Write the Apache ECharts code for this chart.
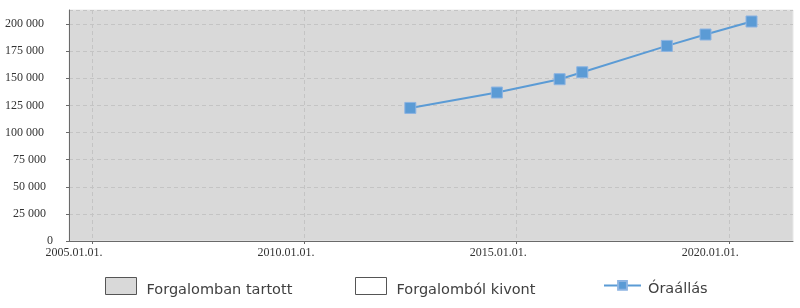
<!DOCTYPE html>
<html>
<head>
<meta charset="utf-8">
<script src="https://cdn.jsdelivr.net/npm/echarts@6/dist/echarts.min.js"></script>
<style>
html,body{margin:0;padding:0;background:#fff;}
#chart{width:800px;height:308px;}
</style>
</head>
<body>
<div id="chart"></div>
<script>
// ---- data ----
const readingDates = ['2012-06-29', '2014-07-14', '2016-01-05', '2016-07-18', '2018-07-16', '2019-06-14', '2020-07-14'];
const readingValues = [122700, 136900, 149200, 155600, 179900, 190400, 202400];
const xTickDates = ['2005-01-01', '2010-01-01', '2015-01-01', '2020-01-01'];
const xRange = ['2004-06-13', '2021-07-06'];
const yMax = 213000;
const yStep = 25000;
const legendNames = ['Forgalomban tartott', 'Forgalomból kivont', 'Óraállás'];

// x axis works in days since 2005-01-01 (UTC)
const DAY = 86400000;
const ORIGIN = Date.UTC(2005, 0, 1);
function toDay(s) {
  const p = s.split('-').map(Number);
  return Math.round((Date.UTC(p[0], p[1] - 1, p[2]) - ORIGIN) / DAY);
}
function pad(n) { return (n < 10 ? '0' : '') + n; }
function fmtDate(v) {
  const d = new Date(ORIGIN + Math.round(v) * DAY);
  return d.getUTCFullYear() + '.' + pad(d.getUTCMonth() + 1) + '.' + pad(d.getUTCDate()) + '.';
}
function fmtNum(v) {
  const s = String(v).replace(/\B(?=(\d{3})+(?!\d))/g, ' ');
  if (s.length >= 7) return '{l|' + s + '}';
  if (s.length >= 5) return '{m|' + s + '}';
  return '{s|' + s + '}';
}

const tickDays = xTickDates.map(toDay);
const lineData = readingDates.map((d, i) => [toDay(d), readingValues[i]]);

const chart = echarts.init(document.getElementById('chart'), null, {renderer: 'canvas'});
const legFont = {fontFamily: 'DejaVu Sans', fontSize: 14.5, color: '#404040'};
function legendTextStyle(leftPad) {
  return Object.assign({}, legFont, {
    rich: {t: Object.assign({padding: [8, 0, 0, leftPad]}, legFont)}
  });
}
const yLab = {fontFamily: 'Liberation Serif', fontSize: 12, color: '#333'};

chart.setOption({
  animation: false,
  backgroundColor: '#ffffff',
  grid: {
    left: 69, right: 7, top: 10, bottom: 67,
    show: true, backgroundColor: '#d9d9d9', borderColor: '#e8e8e8', borderWidth: 1,
    containLabel: false
  },
  xAxis: {
    type: 'value',
    min: toDay(xRange[0]),
    max: toDay(xRange[1]),
    axisLine: {show: true, onZero: false, lineStyle: {color: '#6a6a6a', width: 1}},
    axisTick: {show: true, length: 3, lineStyle: {color: '#6a6a6a'}, customValues: tickDays},
    axisLabel: {
      customValues: tickDays,
      formatter: fmtDate,
      fontFamily: 'Liberation Serif', fontSize: 12, color: '#333',
      margin: 6, padding: [0, 37, 0, 0]
    },
    splitLine: {show: true, lineStyle: {color: '#c4c4c4', type: [4, 3], width: 1}}
  },
  yAxis: {
    type: 'value',
    min: 0, max: yMax, interval: yStep,
    axisLine: {show: true, onZero: false, lineStyle: {color: '#6a6a6a', width: 1}},
    axisTick: {show: true, length: 3, lineStyle: {color: '#6a6a6a'}},
    axisLabel: {
      formatter: fmtNum, showMaxLabel: false,
      fontFamily: 'Liberation Serif', fontSize: 12, color: '#333', margin: 16,
      rich: {
        l: Object.assign({padding: [0, 9, 0, 0]}, yLab),
        m: Object.assign({padding: [0, 7, 0, 0]}, yLab),
        s: Object.assign({padding: [0, 0, 0, 0]}, yLab)
      }
    },
    splitLine: {show: true, lineStyle: {color: '#c4c4c4', type: [4, 3], width: 1}}
  },
  legend: [
    {
      data: [{name: legendNames[0], icon: 'rect', itemStyle: {color: '#d9d9d9', borderColor: '#555', borderWidth: 1}}],
      formatter: '{t|{name}}',
      left: 105, top: 277, padding: 0, itemWidth: 31, itemHeight: 17, textStyle: legendTextStyle(5), selectedMode: false
    },
    {
      data: [{name: legendNames[1], icon: 'rect', itemStyle: {color: '#ffffff', borderColor: '#555', borderWidth: 1}}],
      formatter: '{t|{name}}',
      left: 355, top: 277, padding: 0, itemWidth: 31, itemHeight: 17, textStyle: legendTextStyle(5), selectedMode: false
    },
    {
      data: [{name: legendNames[2]}],
      formatter: '{t|{name}}',
      left: 603, top: 280, padding: 0, itemWidth: 37, itemHeight: 11,
      textStyle: legendTextStyle(2), selectedMode: false
    }
  ],
  series: [
    {name: legendNames[0], type: 'line', data: [], itemStyle: {color: '#d9d9d9'}},
    {name: legendNames[1], type: 'line', data: [], itemStyle: {color: '#ffffff'}},
    {
      name: legendNames[2], type: 'line', data: lineData,
      symbol: 'rect', symbolSize: 11, showSymbol: true,
      lineStyle: {color: '#5b9bd5', width: 2},
      itemStyle: {color: '#5b9bd5', borderColor: '#8db4e2', borderWidth: 1}
    }
  ]
});
</script>
</body>
</html>
